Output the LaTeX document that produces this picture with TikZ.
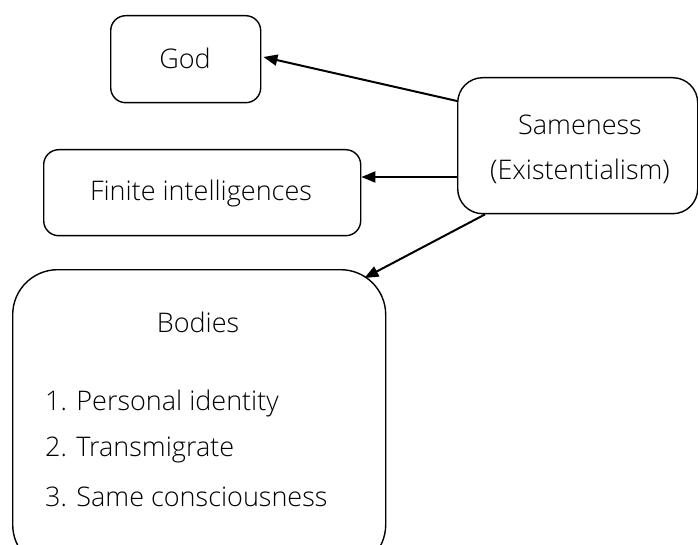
\documentclass[tikz,border=0pt]{standalone}
\usepackage{fontspec}
\setmainfont{Open Sans}[UprightFont=* Light]
\usetikzlibrary{arrows.meta}
\begin{document}
\begin{tikzpicture}[x=1pt,y=-1pt,
  box/.style={draw,line width=1.4pt,inner sep=0pt,anchor=north west},
  lbl/.style={font=\fontsize{27}{30}\selectfont,inner sep=0pt},
  arr/.style={line width=2pt,-{Triangle[length=14pt,width=11pt]}}]
\useasboundingbox (0,0) rectangle (698,545);
\node[box,rounded corners=15pt,minimum width=150pt,minimum height=87pt] (god) at (110,15) {};
\node[box,rounded corners=15pt,minimum width=317pt,minimum height=86pt] (fin) at (43,149) {};
\node[box,rounded corners=25pt,minimum width=240pt,minimum height=136pt] (same) at (457,77) {};
\node[box,rounded corners=45pt,minimum width=373pt,minimum height=300pt] (bod) at (12,269) {};
\node[lbl] (tgod) at (185,58) {God};
\node[lbl] (tfin) at (201,193) {Finite intelligences};
\node[lbl] (ts1) at (580,125) {Sameness};
\node[lbl] (ts2) at (580,171) {(Existentialism)};
\node[lbl] (tb) at (198,322) {Bodies};
\node[lbl,anchor=west] (l1) at (45,403) {1. Personal identity};
\node[lbl,anchor=west] (l2) at (45,450) {2. Transmigrate};
\node[lbl,anchor=west] (l3) at (45,497) {3. Same consciousness};
\draw[arr] ([yshift=-24pt]same.north west) -- ([yshift=-42pt,xshift=2pt]god.north east);
\draw[arr] ([yshift=-100pt]same.north west) -- ([yshift=-28pt]fin.north east);
\draw[arr] ([xshift=28pt]same.south west) -- ([xshift=-22pt,yshift=-9pt]bod.north east);
\end{tikzpicture}
\end{document}
